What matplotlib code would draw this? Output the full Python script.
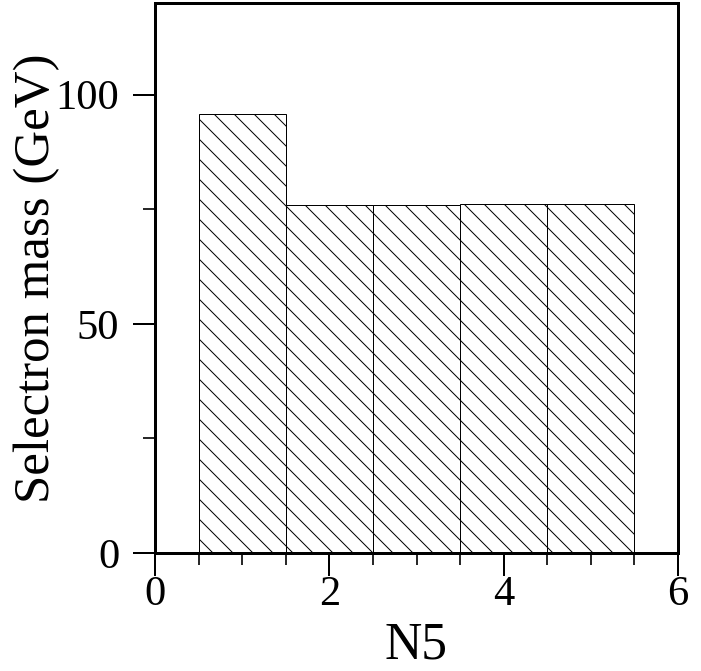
import matplotlib
matplotlib.use("Agg")
import matplotlib.pyplot as plt
from matplotlib.ticker import MultipleLocator

# ── data ──────────────────────────────────────────────────────────────────
n5 = [1, 2, 3, 4, 5]
selectron_mass = [95.8, 75.9, 75.9, 76.1, 76.1]

plt.rcParams["font.family"] = ["Liberation Serif", "DejaVu Serif"]
plt.rcParams["hatch.linewidth"] = 0.6

DPI = 120
fig = plt.figure(figsize=(701 / DPI, 671 / DPI), dpi=DPI)
ax = fig.add_axes([155 / 701, 1 - 553 / 671, 523 / 701, 550 / 671])

# hatched bars, one per N5 value
ax.bar(n5, selectron_mass, width=1.0, facecolor="white", edgecolor="black",
       linewidth=0.6, hatch="\\\\")

ax.set_xlim(0, 6)
ax.set_ylim(0, 120)
ax.xaxis.set_major_locator(MultipleLocator(2))
ax.xaxis.set_minor_locator(MultipleLocator(0.5))
ax.yaxis.set_major_locator(MultipleLocator(50))
ax.yaxis.set_minor_locator(MultipleLocator(25))

for side in ax.spines.values():
    side.set_linewidth(1.8)
ax.tick_params(which="major", direction="out", length=13.5, width=1.2,
               labelsize=25.5, top=False, right=False)
ax.tick_params(which="minor", direction="out", length=7.2, width=1.0,
               top=False, right=False)
ax.tick_params(axis="x", which="major", pad=0)
ax.tick_params(axis="y", which="major", pad=8)

ax.set_xlabel("N5", fontsize=31)
ax.xaxis.set_label_coords(0.5, -0.124)
ax.set_ylabel("Selectron mass (GeV)", fontsize=30.5)
ax.yaxis.set_label_coords(-0.181, 0.5)

fig.savefig("out.png", dpi=DPI)
